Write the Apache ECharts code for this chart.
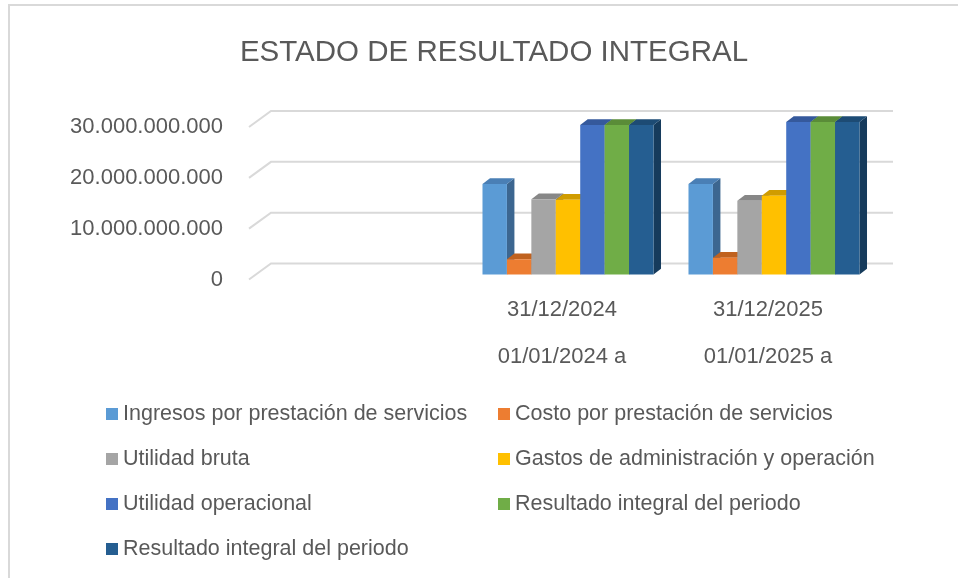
<!DOCTYPE html>
<html>
<head>
<meta charset="utf-8">
<script src="https://cdn.jsdelivr.net/npm/echarts@6/dist/echarts.min.js"></script>
<style>
  html, body { margin: 0; padding: 0; background: #fff; }
  #chart { width: 958px; height: 578px; }
</style>
</head>
<body>
<div id="chart"></div>
<script>
var categories = ['', '31/12/2024', '31/12/2025'];
var periodStart = ['', '01/01/2024 a', '01/01/2025 a'];
var yTicks = [0, 10000000000, 20000000000, 30000000000];

var seriesNames = [
    'Ingresos por prestación de servicios',
    'Costo por prestación de servicios',
    'Utilidad bruta',
    'Gastos de administración y operación',
    'Utilidad operacional',
    'Resultado integral del periodo',
    'Resultado integral del periodo '
];
var ingresos = [null, 17800000000, 17800000000];
var costo = [null, 3000000000, 3300000000];
var utilidadBruta = [null, 14800000000, 14500000000];
var gastos = [null, 14700000000, 15500000000];
var utilidadOperacional = [null, 29400000000, 30000000000];
var resultadoIntegral = [null, 29400000000, 30000000000];
var resultadoIntegral2 = [null, 29400000000, 30000000000];

var allValues = [ingresos, costo, utilidadBruta, gastos, utilidadOperacional, resultadoIntegral, resultadoIntegral2];

// face colours: front, top, side
var frontColors = ['#5B9BD5', '#ED7D31', '#A5A5A5', '#FFC000', '#4472C4', '#70AD47', '#255E91'];
var topColors = ['#4A7FB5', '#C0621F', '#878787', '#D09C00', '#35599C', '#5A8C38', '#1D4B74'];
var sideColors = ['#3C6690', '#9E4F18', '#6E6E6E', '#A87E00', '#2C4A82', '#4A732E', '#163B5C'];

var font = 'Liberation Sans';
var textColor = '#595959';

function fmt(v) {
    return String(v).replace(/\B(?=(\d{3})+(?!\d))/g, '.');
}

var myChart = echarts.init(document.getElementById('chart'));

// back wall lines (3d look)
var gridSeries = {
    type: 'custom',
    z: 1,
    silent: true,
    data: yTicks.map(function (v) { return [0, v]; }),
    renderItem: function (params, api) {
        var cs = params.coordSys;
        var y = api.coord([0, api.value(1)])[1];
        var x0 = cs.x - 4;
        return {
            type: 'polyline',
            shape: { points: [[x0, y], [x0 + 22, y - 16], [cs.x + cs.width + 22, y - 16]] },
            style: { stroke: '#d9d9d9', lineWidth: 2, fill: null }
        };
    }
};

function makeBar(k) {
    return {
        type: 'custom',
        name: seriesNames[k],
        z: 2,
        itemStyle: { color: frontColors[k] },
        data: allValues[k].map(function (v, i) { return [i, v]; }),
        renderItem: function (params, api) {
            var val = api.value(1);
            if (val == null || isNaN(val)) return;
            var cat = api.value(0);
            var band = api.size([1, 0])[0];
            var bw = band * 0.1186;
            var base = api.coord([cat, 0]);
            var top = api.coord([cat, val]);
            var x0 = base[0] - 3.5 * bw + k * bw + 6;
            var yb = base[1] - 5;
            var yt = top[1] - 5;
            var dx = 7.5, dy = -5.7;
            return {
                type: 'group',
                children: [
                    {
                        type: 'polygon',
                        shape: { points: [[x0 + bw, yt], [x0 + bw + dx, yt + dy], [x0 + bw + dx, yb + dy], [x0 + bw, yb]] },
                        style: { fill: sideColors[k] }
                    },
                    {
                        type: 'polygon',
                        shape: { points: [[x0, yt], [x0 + dx, yt + dy], [x0 + bw + dx, yt + dy], [x0 + bw, yt]] },
                        style: { fill: topColors[k] }
                    },
                    {
                        type: 'rect',
                        shape: { x: x0, y: yt, width: bw, height: yb - yt },
                        style: { fill: frontColors[k] }
                    }
                ]
            };
        }
    };
}

var series = [gridSeries];
for (var k = 0; k < seriesNames.length; k++) {
    series.push(makeBar(k));
}

var legendText = { color: textColor, fontFamily: font, fontSize: 21.5, lineHeight: 24 };

var option = {
    animation: false,
    backgroundColor: '#fff',
    title: {
        text: 'ESTADO DE RESULTADO INTEGRAL',
        left: 489,
        top: 33,
        textAlign: 'center',
        textStyle: { color: textColor, fontFamily: font, fontSize: 29.5, fontWeight: 'normal' }
    },
    graphic: [
        { type: 'line', shape: { x1: 8, y1: 5, x2: 958, y2: 5 }, style: { stroke: '#d9d9d9', lineWidth: 2 } },
        { type: 'line', shape: { x1: 9, y1: 4, x2: 9, y2: 578 }, style: { stroke: '#d9d9d9', lineWidth: 2 } }
    ],
    legend: [
        {
            orient: 'vertical',
            left: 101,
            top: 397,
            itemWidth: 12,
            itemHeight: 12,
            itemGap: 21,
            icon: 'rect',
            textStyle: legendText,
            data: [seriesNames[0], seriesNames[2], seriesNames[4], seriesNames[6]]
        },
        {
            orient: 'vertical',
            left: 493,
            top: 397,
            itemWidth: 12,
            itemHeight: 12,
            itemGap: 21,
            icon: 'rect',
            textStyle: legendText,
            data: [seriesNames[1], seriesNames[3], seriesNames[5]]
        }
    ],
    grid: {
        left: 253,
        width: 618,
        top: 127,
        bottom: 298.5,
        containLabel: false
    },
    xAxis: {
        type: 'category',
        data: categories,
        axisLine: { show: false },
        axisTick: { show: false },
        axisLabel: {
            margin: 7,
            interval: 0,
            formatter: function (v, i) {
                if (!v) return '';
                return '{a|' + v + '}\n{b|' + periodStart[i] + '}';
            },
            rich: {
                a: { color: textColor, fontFamily: font, fontSize: 22, lineHeight: 47 },
                b: { color: textColor, fontFamily: font, fontSize: 22, lineHeight: 47 }
            }
        }
    },
    yAxis: {
        type: 'value',
        min: 0,
        max: 30000000000,
        interval: 10000000000,
        axisLine: { show: false },
        axisTick: { show: false },
        splitLine: { show: false },
        axisLabel: {
            margin: 30,
            color: textColor,
            fontFamily: font,
            fontSize: 22,
            formatter: fmt
        }
    },
    series: series
};

myChart.setOption(option);
</script>
</body>
</html>
